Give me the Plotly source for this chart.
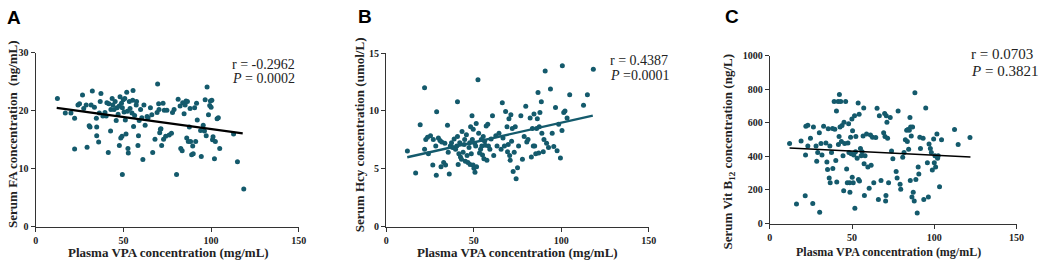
import plotly.graph_objects as go

# ---------------- data ----------------
vpa_A = [12.4, 16.9, 20.1, 22.2, 22.2, 24.1, 25.0, 26.7, 27.4, 28.8, 29.3, 30.5, 31.0, 31.6, 32.3, 33.5,
         34.6, 34.8, 34.8, 35.9, 36.3, 36.8, 37.2, 38.3, 39.5, 40.2, 40.6, 41.4, 41.7, 42.7, 42.9, 43.6,
         44.0, 44.7, 45.3, 45.9, 46.4, 47.0, 47.6, 47.7, 48.1, 48.5, 48.9, 49.2, 49.4, 49.4, 49.9, 50.4,
         50.8, 51.1, 51.5, 51.9, 52.3, 52.6, 52.8, 53.4, 53.8, 54.9, 55.3, 55.5, 55.8, 56.4, 57.3, 57.5,
         58.3, 58.6, 59.0, 59.8, 60.5, 61.1, 61.7, 62.4, 63.5, 64.1, 65.4, 66.2, 66.7, 68.0, 69.2, 69.5,
         70.1, 70.3, 70.7, 71.1, 71.4, 71.8, 72.6, 72.9, 73.3, 74.1, 74.8, 76.1, 77.4, 78.0, 78.9, 80.3,
         81.2, 82.3, 82.7, 83.5, 83.8, 84.6, 85.2, 85.7, 86.1, 86.5, 87.0, 87.6, 88.0, 88.3, 88.9, 89.5,
         89.8, 90.6, 91.2, 91.7, 92.1, 94.0, 94.4, 95.5, 96.2, 96.6, 97.2, 97.7, 98.5, 99.2, 99.6, 100.0,
         100.4, 100.8, 101.1, 101.9, 102.4, 103.4, 104.1, 104.9, 112.8, 115.0, 118.6]
fa = [22.1, 19.6, 19.6, 18.7, 13.4, 21.0, 21.2, 22.7, 20.4, 21.0, 13.7, 17.4, 17.2, 21.0, 23.4, 20.6,
      18.7, 17.2, 15.7, 14.6, 19.6, 21.6, 23.0, 19.1, 19.7, 19.1, 21.4, 12.8, 21.2, 16.5, 20.2, 22.1,
      21.0, 20.2, 21.6, 18.3, 20.5, 19.4, 20.8, 14.0, 22.4, 15.3, 21.3, 15.6, 9.0, 20.5, 21.9, 19.8,
      22.1, 18.4, 16.0, 23.2, 19.9, 13.5, 12.7, 21.6, 20.4, 19.6, 21.8, 23.5, 17.3, 19.2, 21.0, 21.6,
      14.0, 15.7, 18.3, 20.2, 18.8, 11.6, 21.0, 17.5, 19.0, 18.8, 20.5, 19.3, 12.8, 15.1, 19.7, 24.6,
      21.2, 20.2, 16.2, 16.8, 16.9, 14.0, 21.3, 15.1, 20.1, 15.6, 20.1, 15.8, 16.1, 19.7, 20.2, 9.0,
      22.0, 20.8, 13.5, 13.1, 21.4, 19.5, 21.0, 21.7, 15.3, 21.6, 14.7, 17.2, 20.4, 14.7, 12.4, 13.9,
      12.6, 20.5, 14.7, 21.3, 18.4, 16.6, 12.1, 17.5, 16.5, 21.9, 15.7, 24.1, 19.3, 20.9, 21.7, 20.6,
      21.8, 15.0, 15.5, 11.7, 14.7, 18.6, 18.8, 13.5, 16.0, 11.2, 6.5]
fit_A_x = [12, 118]
fit_A_y = [20.5, 16.1]

vpa_B = [12.1, 16.8, 19.4, 21.9, 21.9, 22.6, 23.6, 24.1, 25.3, 26.6, 26.9, 28.3, 28.6, 28.8, 29.8, 30.7,
         31.3, 31.7, 32.8, 33.5, 33.9, 35.0, 35.4, 36.0, 36.6, 37.3, 37.9, 38.8, 39.6, 40.3, 40.7, 40.7,
         41.1, 41.5, 42.0, 42.4, 43.0, 43.3, 43.9, 44.5, 44.8, 45.2, 45.8, 46.2, 46.7, 47.3, 47.7, 47.9,
         48.2, 48.6, 49.0, 49.2, 49.6, 49.7, 50.1, 50.5, 50.7, 51.1, 51.4, 51.6, 52.4, 52.8, 53.3, 53.9,
         54.3, 54.6, 55.0, 55.4, 55.8, 56.2, 56.5, 57.1, 57.5, 58.0, 58.4, 59.2, 59.9, 60.7, 61.4, 62.6,
         63.3, 64.4, 65.6, 66.3, 66.7, 67.5, 68.2, 69.0, 69.3, 69.7, 70.1, 70.5, 70.8, 71.2, 71.6, 72.0,
         72.5, 73.1, 73.7, 74.2, 75.0, 75.6, 76.9, 77.8, 78.8, 79.7, 80.3, 81.0, 82.2, 82.9, 83.5, 84.0,
         84.4, 84.8, 85.4, 85.9, 86.3, 86.7, 87.1, 87.4, 87.8, 88.6, 88.9, 89.7, 90.1, 90.8, 91.6, 92.7,
         93.8, 94.8, 95.7, 96.7, 97.6, 98.5, 99.5, 100.4, 100.6, 101.4, 102.1, 103.3, 104.8, 112.7, 114.9,
         118.3]
hcy = [6.53, 4.63, 8.80, 12.0, 6.70, 7.53, 7.72, 6.29, 7.86, 5.32, 7.53, 6.98, 4.44, 9.93, 7.66, 7.44,
       5.18, 7.31, 5.54, 7.20, 5.32, 8.77, 6.42, 4.55, 6.98, 7.25, 6.84, 7.58, 6.70, 6.98, 7.80, 10.8,
       5.38, 6.29, 7.25, 6.01, 5.82, 8.22, 6.42, 7.11, 7.53, 5.65, 7.94, 6.15, 5.54, 6.84, 7.25, 5.38,
       8.63, 6.29, 9.59, 7.53, 5.32, 8.41, 5.05, 7.20, 4.71, 6.98, 8.91, 5.18, 12.7, 8.08, 6.37, 6.70,
       7.53, 6.98, 6.20, 7.80, 5.87, 7.39, 7.03, 8.69, 5.73, 8.85, 6.98, 6.70, 7.58, 9.59, 6.15, 7.86,
       6.98, 8.08, 6.70, 10.7, 7.66, 6.98, 9.95, 8.63, 6.48, 7.11, 9.32, 6.15, 5.73, 9.68, 7.39, 8.49,
       4.77, 6.42, 8.63, 4.14, 5.10, 6.98, 9.59, 5.82, 7.80, 10.4, 7.31, 7.53, 9.40, 6.01, 8.49, 6.98,
       9.73, 6.98, 6.29, 8.49, 9.32, 11.6, 6.37, 8.63, 9.87, 10.8, 8.08, 6.48, 7.53, 13.45, 7.20, 6.84,
       11.9, 8.08, 6.92, 10.3, 6.56, 8.85, 5.93, 8.30, 13.9, 9.87, 10.0, 9.40, 11.4, 10.5, 11.4,
       13.6]
fit_B_x = [12, 118]
fit_B_y = [6.0, 9.6]

vpa_C = [12.0, 16.2, 19.0, 21.5, 21.7, 21.9, 23.1, 23.1, 24.7, 26.1, 26.5, 28.1, 28.5, 29.1, 30.1, 30.3,
         31.1, 31.7, 32.7, 34.1, 34.7, 35.1, 35.5, 36.1, 36.5, 36.7, 37.5, 38.1, 38.3, 39.1, 39.5, 40.1,
         40.5, 40.7, 41.5, 41.7, 42.1, 42.3, 42.7, 43.1, 43.5, 43.9, 44.5, 44.9, 45.1, 45.5, 46.1, 46.7,
         47.1, 47.5, 47.9, 48.1, 48.5, 48.7, 49.1, 49.5, 49.9, 50.1, 50.3, 50.7, 51.1, 51.5, 51.7, 52.1,
         52.3, 53.1, 53.7, 53.9, 54.3, 54.5, 55.1, 55.5, 56.1, 56.7, 57.1, 57.3, 57.5, 57.9, 58.8, 59.6,
         60.4, 61.2, 61.6, 62.4, 63.2, 64.4, 65.2, 66.0, 66.6, 67.6, 69.2, 69.8, 70.0, 70.4, 70.6, 70.8,
         71.2, 71.6, 72.2, 73.2, 74.0, 74.8, 76.8, 77.4, 78.0, 79.2, 79.6, 80.8, 81.6, 82.4, 83.2, 83.6,
         84.0, 84.4, 84.8, 85.2, 85.4, 85.6, 86.0, 86.4, 86.8, 87.2, 87.8, 88.2, 88.8, 89.6, 90.2, 90.6,
         91.2, 91.6, 93.2, 93.6, 94.8, 95.8, 96.4, 96.8, 97.6, 98.2, 98.8, 99.6, 100.0, 100.4, 100.8,
         101.6, 102.0, 102.4, 103.2, 104.4, 112.3, 114.5, 121.7]
b12 = [477, 116, 492, 165, 409, 580, 587, 462, 509, 120, 576, 462, 371, 424, 542, 67,
       477, 409, 580, 481, 367, 323, 565, 272, 462, 243, 424, 567, 329, 728, 563, 376,
       671, 247, 728, 471, 519, 770, 576, 728, 490, 585, 405, 196, 604, 477, 728, 325,
       243, 481, 595, 424, 243, 186, 515, 416, 624, 276, 553, 243, 409, 643, 91, 428,
       519, 390, 719, 262, 652, 253, 447, 405, 428, 523, 690, 357, 167, 405, 534, 338,
       211, 528, 348, 515, 243, 513, 688, 144, 643, 257, 542, 656, 519, 135, 167, 643,
       604, 509, 243, 633, 433, 386, 310, 272, 671, 234, 205, 395, 424, 500, 557, 490,
       561, 443, 557, 633, 257, 576, 523, 158, 576, 186, 135, 781, 262, 63, 338, 295,
       515, 447, 509, 143, 690, 363, 158, 475, 447, 424, 319, 504, 363, 405, 338,
       534, 390, 405, 219, 500, 561, 471, 513]
fit_C_x = [12, 122]
fit_C_y = [450, 397]

x_ticks = [0, 50, 100, 150]
y_ticks_A = [0, 10, 20, 30]
y_ticks_B = [0, 5, 10, 15]
y_ticks_C = [0, 200, 400, 600, 800, 1000]

x_title = "Plasma VPA concentration (mg/mL)"
y_titles = ["Serum FA concentration  (ng/mL)",
            "Serum Hcy concentration (umol/L)",
            "Serum Vit B<sub>12</sub> concentration (ng/L)"]
stats = [("r = -0.2962", "<i>P</i> = 0.0002"),
         ("r = 0.4387", "<i>P</i> =0.0001"),
         ("r = 0.0703", "<i>P</i> = 0.3821")]
panel_letters = ["A", "B", "C"]

# ---------------- figure ----------------
W, H = 1045, 268
TEAL = "#145a6c"
SERIF = "Liberation Serif, Times New Roman, serif"

fig = go.Figure()

panels = [
    dict(x=vpa_A, y=fa, fx=fit_A_x, fy=fit_A_y, lc="black", lw=2.4, yt=y_ticks_A),
    dict(x=vpa_B, y=hcy, fx=fit_B_x, fy=fit_B_y, lc=TEAL, lw=2.4, yt=y_ticks_B),
    dict(x=vpa_C, y=b12, fx=fit_C_x, fy=fit_C_y, lc="black", lw=1.5, yt=y_ticks_C),
]
# pixel boxes (left, right, top, bottom)
boxes = [(33, 299, 49, 231), (387.3, 652.7, 49.3, 231), (775, 1024.3, 52.3, 227.7)]

for i, p in enumerate(panels):
    s = "" if i == 0 else str(i + 1)
    fig.add_trace(go.Scatter(x=p["x"], y=p["y"], mode="markers",
                             marker=dict(color=TEAL, size=5),
                             xaxis="x" + s, yaxis="y" + s, showlegend=False))
    fig.add_trace(go.Scatter(x=p["fx"], y=p["fy"], mode="lines",
                             line=dict(color=p["lc"], width=p["lw"]),
                             xaxis="x" + s, yaxis="y" + s, showlegend=False))
    l, r, t, b = boxes[i]
    axis_common = dict(showline=True, linecolor="#333", linewidth=1.2, ticks="outside",
                       ticklen=4, tickwidth=1.2, tickcolor="#333", showgrid=False,
                       zeroline=False,
                       tickfont=dict(family=SERIF, size=10, color="#222", weight="bold"))
    fig.update_layout(**{
        "xaxis" + s: dict(domain=[l / W, r / W], range=[0, 150], tickvals=x_ticks,
                          anchor="y" + s, **axis_common),
        "yaxis" + s: dict(domain=[1 - b / H, 1 - t / H], range=[0, p["yt"][-1]],
                          tickvals=p["yt"], anchor="x" + s, **axis_common),
    })

# axis titles
xt_pos = [(167, 258, 13), (520, 258, 13), (895, 258, 12)]
yt_pos = [(9, 134, 13), (361, 135, 13), (733, 153, 13)]
for i in range(3):
    x, y, fs = xt_pos[i]
    fig.add_annotation(x=x / W, y=1 - y / H, xref="paper", yref="paper", text=x_title,
                       showarrow=False, xanchor="center", yanchor="middle",
                       font=dict(family=SERIF, size=fs, color="#222", weight="bold"))
    x, y, fs = yt_pos[i]
    fig.add_annotation(x=x / W, y=1 - y / H, xref="paper", yref="paper", text=y_titles[i],
                       showarrow=False, xanchor="center", yanchor="middle", textangle=-90,
                       font=dict(family=SERIF, size=fs, color="#222", weight="bold"))

# stats text
st_pos = [(229, 61, 76, 14), (611, 57, 73, 14), (976, 50, 68, 15)]
for i in range(3):
    x, y1, y2, fs = st_pos[i]
    for txt, yy in zip(stats[i], (y1, y2)):
        fig.add_annotation(x=x / W, y=1 - yy / H, xref="paper", yref="paper", text=txt,
                           showarrow=False, xanchor="left", yanchor="middle",
                           font=dict(family=SERIF, size=fs, color="#222"))

# panel letters
lp = [(2, 12), (357, 11), (728, 11)]
for i in range(3):
    x, y = lp[i]
    fig.add_annotation(x=x / W, y=1 - y / H, xref="paper", yref="paper", text=panel_letters[i],
                       showarrow=False, xanchor="left", yanchor="middle",
                       font=dict(family="Liberation Sans, Arial, sans-serif", size=19,
                                 color="black", weight="bold"))

fig.update_layout(width=W, height=H, margin=dict(l=0, r=0, t=0, b=0),
                  paper_bgcolor="white", plot_bgcolor="white")
fig.write_html("out.html", config={"displayModeBar": False},
               post_script="document.body.style.margin='0';document.body.style.overflow='hidden';")
